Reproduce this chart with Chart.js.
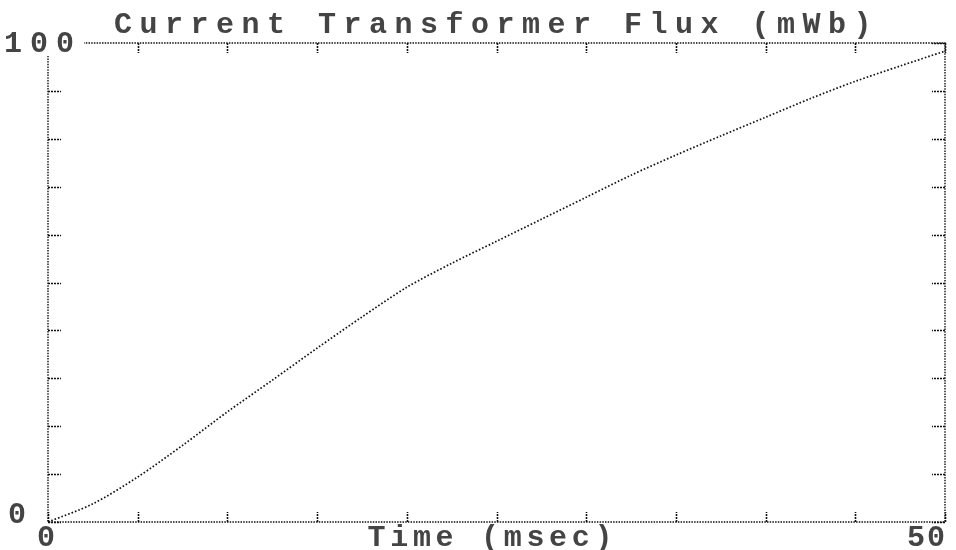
<!DOCTYPE html>
<html>
<head>
<meta charset="utf-8">
<title>Current Transformer Flux</title>
<script src="https://cdn.jsdelivr.net/npm/chart.js@4.4.1/dist/chart.umd.min.js"></script>
<style>
    html, body { margin: 0; padding: 0; background: #fff; }
    #wrap { width: 956px; height: 550px; }
</style>
</head>
<body>
<div id="wrap"><canvas id="grafico"></canvas></div>
<script>
// tempo (msec) e fluxo (mWb)
const tempos = [0, 2.5, 5, 7.5, 10, 12.5, 15, 17.5, 20, 22.5, 25, 27.5, 30, 32.5, 35, 37.5, 40, 42.5, 45, 47.5, 50];
const fluxo = [0, 3.8, 9.4, 16, 23, 29.6, 36.3, 42.8, 49, 54, 58.6, 63.2, 67.8, 72.4, 76.6, 80.6, 84.5, 88.4, 92, 95.2, 98.3];

const ticksX = [0, 5, 10, 15, 20, 25, 30, 35, 40, 45, 50];
const ticksY = [0, 10, 20, 30, 40, 50, 60, 70, 80, 90, 100];
const rotulosX = ['0', '50'];
const rotulosY = ['0', '100'];

const titulo = 'Current Transformer Flux (mWb)';
const tituloX = 'Time (msec)';

const FONTE = 'bold 30px "Liberation Mono", "DejaVu Sans Mono", monospace';
const COR_TEXTO = '#444';

function escrever(ctx, texto, x, y, alinhar, espaco) {
    ctx.save();
    ctx.font = FONTE;
    ctx.fillStyle = COR_TEXTO;
    ctx.letterSpacing = espaco + 'px';
    ctx.textBaseline = 'middle';
    let largura = ctx.measureText(texto).width - espaco;
    let x0 = x;
    if (alinhar === 'center') x0 = x - largura / 2;
    if (alinhar === 'right') x0 = x - largura;
    ctx.textAlign = 'left';
    ctx.fillText(texto, x0, y);
    ctx.restore();
}

const moldura = {
    id: 'moldura',
    beforeDraw(chart) {
        chart.ctx.letterSpacing = '7.5px';
    },
    afterDatasetsDraw(chart) {
        chart.ctx.letterSpacing = '0px';
    },
    afterDraw(chart) {
        const ctx = chart.ctx;
        const a = chart.chartArea;
        const sx = chart.scales.x;
        const sy = chart.scales.y;

        ctx.save();
        ctx.strokeStyle = '#111';
        ctx.lineWidth = 1.4;
        ctx.setLineDash([1.5, 1.2]);
        ctx.strokeRect(a.left, a.top, a.right - a.left, a.bottom - a.top);

        ctx.lineWidth = 1.6;
        ctx.setLineDash([2, 1]);
        ticksX.forEach(v => {
            const px = Math.round(sx.getPixelForValue(v)) + 0.5;
            ctx.beginPath();
            ctx.moveTo(px, a.bottom);
            ctx.lineTo(px, a.bottom - 10);
            ctx.moveTo(px, a.top);
            ctx.lineTo(px, a.top + 10);
            ctx.stroke();
        });
        ticksY.forEach(v => {
            const py = Math.round(sy.getPixelForValue(v)) + 0.5;
            ctx.beginPath();
            ctx.moveTo(a.left, py);
            ctx.lineTo(a.left + 13, py);
            ctx.moveTo(a.right, py);
            ctx.lineTo(a.right - 13, py);
            ctx.stroke();
        });
        ctx.restore();

        // rotulo 100 cobre o canto superior esquerdo
        ctx.save();
        ctx.fillStyle = '#fff';
        ctx.fillRect(0, a.top - 14, 84, 27);
        ctx.restore();
        escrever(ctx, rotulosY[1], 4, sy.getPixelForValue(100) + 1, 'left', 8);
        escrever(ctx, rotulosY[0], 8, sy.getPixelForValue(0) - 7, 'left', 0);

        escrever(ctx, rotulosX[0], sx.getPixelForValue(0) - 2, a.bottom + 16, 'center', 0);
        escrever(ctx, rotulosX[1], sx.getPixelForValue(50), a.bottom + 16, 'right', 2);

        escrever(ctx, tituloX, 490, a.bottom + 16, 'center', 4.7);
    }
};

const ctx = document.getElementById('grafico').getContext('2d');
new Chart(ctx, {
    type: 'line',
    data: {
        datasets: [{
            label: 'Fluxo',
            data: tempos.map((t, i) => ({ x: t, y: fluxo[i] })),
            borderColor: '#111',
            borderWidth: 1.7,
            borderDash: [1.6, 2],
            pointRadius: 0,
            tension: 0.3,
            fill: false
        }]
    },
    options: {
        responsive: true,
        maintainAspectRatio: false,
        animation: false,
        layout: {
            padding: { left: 48, right: 11, top: 0, bottom: 28 }
        },
        plugins: {
            legend: { display: false },
            tooltip: { enabled: false },
            title: {
                display: true,
                text: titulo,
                color: COR_TEXTO,
                font: { family: '"Liberation Mono", "DejaVu Sans Mono", monospace', size: 30, weight: 'bold', lineHeight: 1.2 },
                padding: { top: 7, bottom: 0 }
            }
        },
        scales: {
            x: { type: 'linear', min: 0, max: 50, display: false },
            y: { type: 'linear', min: 0, max: 100, display: false }
        }
    },
    plugins: [moldura]
});
</script>
</body>
</html>
